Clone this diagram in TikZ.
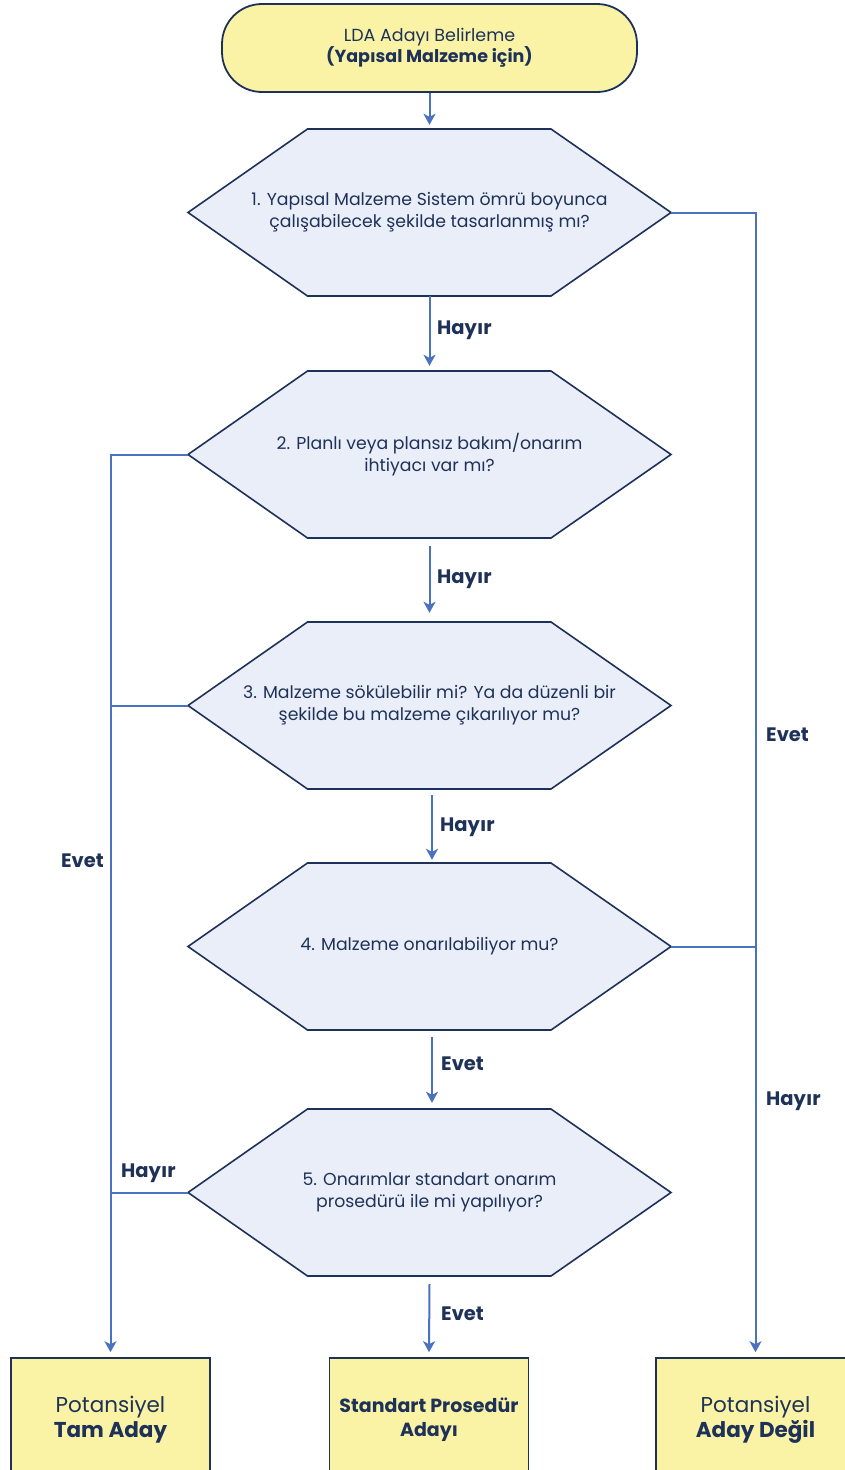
\documentclass[tikz,border=0pt]{standalone}
\usepackage{fontspec}
\setmainfont{Poppins}
\usetikzlibrary{arrows.meta}

\definecolor{navy}{HTML}{1E3259}
\definecolor{flow}{HTML}{4A72C0}
\definecolor{pale}{HTML}{FAF3A5}
\definecolor{hexfill}{HTML}{EAEEF8}

\tikzset{
  startbox/.style={draw=navy, line width=1.8pt, fill=pale, rounded corners=40pt,
    minimum width=415pt, minimum height=88pt, align=center, text=navy,
    font=\fontsize{17.5}{21}\selectfont},
  hexcore/.style={minimum width=483pt, minimum height=167pt, inner sep=0pt,
    align=center, text=navy, font=\fontsize{17.3}{22}\selectfont},
  hexline/.style={draw=navy, line width=1.6pt, fill=hexfill, line join=miter},
  endbox/.style={draw=navy, line width=1.6pt, fill=pale, minimum width=199pt,
    minimum height=124pt, inner sep=0pt, align=center, text=navy,
    font=\fontsize{21.5}{25}\selectfont},
  flowline/.style={draw=flow, line width=2pt},
  arr/.style={flowline, -{Stealth[length=11pt, width=12pt, inset=3pt]}},
  lbl/.style={text=navy, font=\bfseries\fontsize{19.5}{22}\selectfont, inner sep=0pt}
}

% decision hexagon: name, centre x, centre y, text
\newcommand\hexbox[4]{%
  \path[hexline] ({#2-241.5},#3) -- ({#2-122},{#3-83.5}) -- ({#2+121.5},{#3-83.5})
    -- ({#2+241.5},#3) -- ({#2+121.5},{#3+83.5}) -- ({#2-122},{#3+83.5}) -- cycle;
  \node[hexcore] (#1) at (#2,#3) {#4};
}

\begin{document}
\begin{tikzpicture}[x=1pt, y=-1pt]
\clip (0,0) rectangle (845,1470);
\useasboundingbox (0,0) rectangle (845,1470);

\node[startbox] (start) at (429.5,48) {LDA Adayı Belirleme\\\textbf{(Yapısal Malzeme için)}};

\hexbox{h1}{429.5}{212.5}{1. Yapısal Malzeme Sistem ömrü boyunca\\çalışabilecek şekilde tasarlanmış mı?}
\hexbox{h2}{429.5}{454.5}{2. Planlı veya plansız bakım/onarım\\ihtiyacı var mı?}
\hexbox{h3}{429.5}{705.5}{3. Malzeme sökülebilir mi? Ya da düzenli bir\\şekilde bu malzeme çıkarılıyor mu?}
\hexbox{h4}{429.5}{946.5}{4. Malzeme onarılabiliyor mu?}
\hexbox{h5}{429.5}{1192.5}{5. Onarımlar standart onarım\\prosedürü ile mi yapılıyor?}

\node[endbox] (tam) at (110.5,1420) {Potansiyel\\\textbf{Tam Aday}};
\node[endbox, font=\bfseries\fontsize{19}{24}\selectfont] (std) at (429,1420) {Standart Prosedür\\Adayı};
\node[endbox] (degil) at (755.5,1420) {Potansiyel\\\textbf{Aday Değil}};

% main downward path
\draw[arr] (start.south) -- ([yshift=4pt]h1.north);
\draw[arr] (h1.south) -- ([yshift=5pt]h2.north);
\draw[arr] ([yshift=-8pt]h2.south) -- ([yshift=9pt]h3.north);
\draw[arr] ([xshift=2.5pt,yshift=-6pt]h3.south) -- ([xshift=2.5pt,yshift=3pt]h4.north);
\draw[arr] ([xshift=2.5pt,yshift=-7pt]h4.south) -- ([xshift=2.5pt,yshift=6pt]h5.north);
\draw[arr] ([yshift=-8pt]h5.south) -- ([yshift=5pt]std.north);

% left column: potential full candidate
\draw[arr] (h2.west) -| ([yshift=5pt]tam.north);
\draw[flowline] (h3.west) -- (h3.west -| tam.north);
\draw[flowline] (h5.west) -- (h5.west -| tam.north);

% right column: not a candidate
\draw[arr] (h1.east) -| ([yshift=5pt]degil.north);
\draw[flowline] (h4.east) -- (h4.east -| degil.north);

% branch labels
\node[lbl, anchor=west] (l1) at (437,330) {Hayır};
\node[lbl, anchor=west] (l2) at (437,579) {Hayır};
\node[lbl, anchor=west] (l3) at (440,827) {Hayır};
\node[lbl, anchor=west] (l4) at (441,1064) {Evet};
\node[lbl, anchor=west] (l5) at (441,1314) {Evet};
\node[lbl, anchor=east] (l6) at (104,861) {Evet};
\node[lbl, anchor=west] (l7) at (121,1173) {Hayır};
\node[lbl, anchor=west] (l8) at (766,735) {Evet};
\node[lbl, anchor=west] (l9) at (766,1101) {Hayır};
\end{tikzpicture}
\end{document}
